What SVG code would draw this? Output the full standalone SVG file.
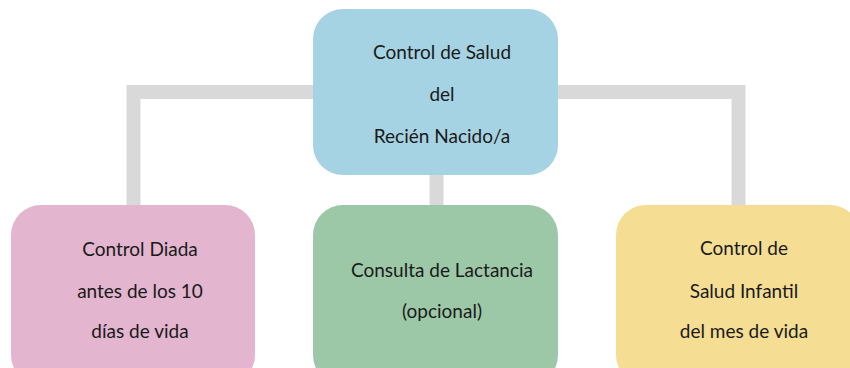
<svg xmlns="http://www.w3.org/2000/svg" width="850" height="368" viewBox="0 0 850 368">
<style>
.c{fill:none;stroke:#d9d9d9;stroke-width:14}
.t{font-family:Lato,"Liberation Sans",sans-serif;font-size:19px;fill:#1a1a1a;text-anchor:middle}
</style>
<rect width="850" height="368" fill="#fff"/>
<g id="connectors">
<path class="c" d="M133.5 205V92H738.5V205"/>
<path class="c" d="M436.5 170V205"/>
</g>
<g id="n0">
<rect x="313" y="9" width="245" height="166" rx="30" fill="#a6d3e3"/>
<text class="t" x="442" y="59">Control de Salud</text>
<text class="t" x="442" y="101">del</text>
<text class="t" x="442" y="143">Recién Nacido/a</text>
</g>
<g id="n1">
<rect x="11" y="205" width="244" height="180" rx="30" fill="#e3b5cf"/>
<text class="t" x="140" y="256">Control Diada</text>
<text class="t" x="140" y="298">antes de los 10</text>
<text class="t" x="140" y="338">días de vida</text>
</g>
<g id="n2">
<rect x="313" y="205" width="245" height="180" rx="30" fill="#9dc8a8"/>
<text class="t" x="442" y="277">Consulta de Lactancia</text>
<text class="t" x="442" y="318">(opcional)</text>
</g>
<g id="n3">
<rect x="616" y="205" width="244" height="180" rx="30" fill="#f5de94"/>
<text class="t" x="744" y="255">Control de</text>
<text class="t" x="744" y="298">Salud Infantil</text>
<text class="t" x="744" y="338">del mes de vida</text>
</g>
</svg>
